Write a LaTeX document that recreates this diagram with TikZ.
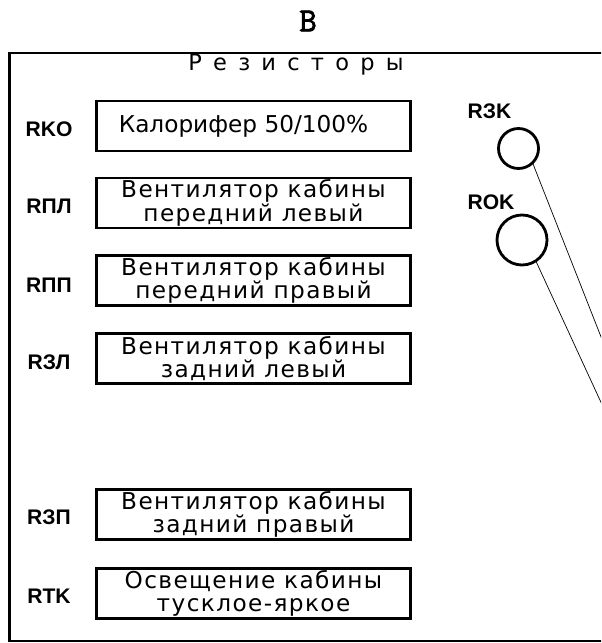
\documentclass[tikz,border=0pt]{standalone}
\usepackage{fontspec}
\setmainfont{DejaVu Sans}
\newfontfamily\boxfont[LetterSpace=6]{DejaVu Sans}
\newfontfamily\spreadfont[LetterSpace=50]{DejaVu Sans}
\newfontfamily\tagfont{Liberation Sans}
\newfontfamily\titlefont[FakeBold=2.5]{Latin Modern Mono}
\usetikzlibrary{positioning}
\tikzset{
  frameline/.style = {line width=2pt},
  resbox/.style    = {draw, line width=2pt, minimum width=7.85cm,
                      minimum height=1.25cm, inner sep=0pt, align=center,
                      font=\boxfont\fontsize{16.5}{16.6}\selectfont},
  tag/.style       = {font=\tagfont\bfseries\fontsize{15}{16}\selectfont},
  knob/.style      = {draw, circle, line width=2pt, inner sep=0pt},
  leader/.style    = {line width=0.5pt}
}

\begin{document}
\begin{tikzpicture}[x=0.025cm,y=-0.025cm]
  \useasboundingbox (0,0) rectangle (601,643);
  \clip (0,0) rectangle (601,643);
  % outer frame, open to the right
  \draw[frameline] (640,53) -- (9.5,53) -- (9.5,641) -- (640,641);
  \node[font=\titlefont\fontsize{24}{26}\selectfont] (title) at (308,21) {B};
  \node[font=\spreadfont\fontsize{16}{17}\selectfont, anchor=base]
        (heading) at (296,71) {Резисторы};
  % resistor boxes
  \node[resbox, font=\fontsize{16.5}{17}\selectfont]
                (box-rko) at (253.5,126)   {Калорифер 50/100\%\hspace*{0.5cm}};
  \node[resbox] (box-rpl) at (253.5,203)   {Вентилятор кабины\\передний левый};
  \node[resbox] (box-rpp) at (253.5,280.5) {Вентилятор кабины\\передний правый};
  \node[resbox] (box-rzl) at (253.5,358.5) {Вентилятор кабины\\задний левый};
  \node[resbox] (box-rzp) at (253.5,514.5) {Вентилятор кабины\\задний правый};
  \node[resbox] (box-rtk) at (253.5,593.5) {Освещение кабины\\тусклое-яркое};
  % tags left of the boxes
  \node[tag] (rko) at (49,129)   {RKO};
  \node[tag] (rpl) at (49,206.5) {RПЛ};
  \node[tag] (rpp) at (49,285)   {RПП};
  \node[tag] (rzl) at (49,362)   {RЗЛ};
  \node[tag] (rzp) at (49,517)   {RЗП};
  \node[tag] (rtk) at (49,596)   {RTK};
  % round resistors
  \node[knob, minimum size=1.0cm]  (r3k) at (518.5,148.5) {};
  \node[knob, minimum size=1.25cm] (rok) at (522,240) {};
  \node[tag] (r3k-tag) at (489.5,111.5) {RЗK};
  \node[tag] (rok-tag) at (491,202.5)   {ROK};
  \coordinate (far3k) at (640,436);
  \coordinate (farok) at (640,487);
  \draw[leader] (r3k.-47) -- (far3k);
  \draw[leader] (rok.-57) -- (farok);
\end{tikzpicture}
\end{document}
